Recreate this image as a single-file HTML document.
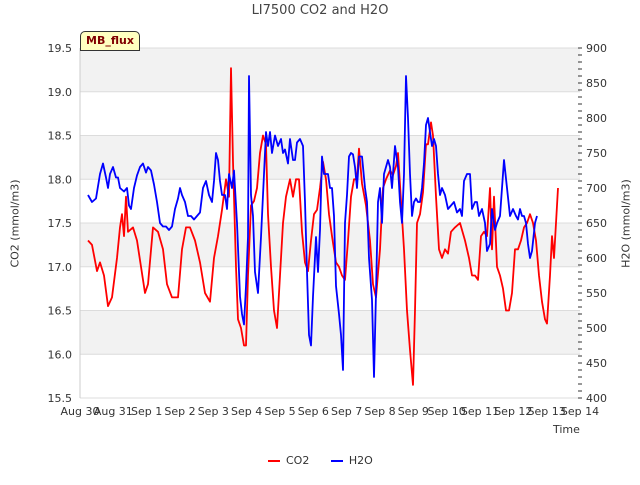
<!DOCTYPE html>
<html><head><meta charset="utf-8"><style>
body{margin:0;background:#fff;font-family:"Liberation Sans",sans-serif}
svg text{font-family:"DejaVu Sans","Liberation Sans",sans-serif}
</style></head><body>
<svg id="c" width="640" height="480" xmlns="http://www.w3.org/2000/svg"></svg>
<script>
const xTickLabels=["Aug 30","Aug 31","Sep 1","Sep 2","Sep 3","Sep 4","Sep 5","Sep 6","Sep 7","Sep 8","Sep 9","Sep 10","Sep 11","Sep 12","Sep 13","Sep 14"];
const co2Ticks=[15.5,16.0,16.5,17.0,17.5,18.0,18.5,19.0,19.5];
const h2oTicks=[400,450,500,550,600,650,700,750,800,850,900];
const co2Days=[0.24,0.36,0.51,0.6,0.72,0.84,0.96,1.11,1.2,1.26,1.32,1.38,1.44,1.59,1.71,1.83,1.95,2.04,2.19,2.34,2.49,2.61,2.76,2.94,3.06,3.18,3.3,3.45,3.6,3.75,3.9,4.02,4.14,4.26,4.38,4.47,4.53,4.59,4.68,4.74,4.83,4.92,4.98,5.04,5.13,5.22,5.31,5.4,5.49,5.58,5.64,5.73,5.82,5.91,6.0,6.09,6.18,6.3,6.39,6.48,6.57,6.66,6.75,6.84,6.93,7.02,7.11,7.2,7.29,7.38,7.47,7.56,7.68,7.77,7.86,7.95,8.04,8.13,8.22,8.31,8.37,8.46,8.58,8.7,8.79,8.88,9.0,9.09,9.18,9.3,9.39,9.48,9.54,9.63,9.72,9.81,9.9,9.99,10.05,10.11,10.2,10.29,10.38,10.44,10.53,10.59,10.68,10.77,10.86,10.95,11.04,11.13,11.25,11.4,11.55,11.67,11.76,11.85,11.94,12.03,12.12,12.21,12.3,12.36,12.42,12.51,12.6,12.69,12.78,12.87,12.96,13.05,13.14,13.23,13.32,13.41,13.5,13.59,13.68,13.77,13.86,13.95,14.01,14.1,14.16,14.22,14.28,14.34];
const co2Vals=[17.3,17.25,16.95,17.05,16.9,16.55,16.65,17.1,17.45,17.6,17.35,17.8,17.4,17.45,17.3,17.0,16.7,16.8,17.45,17.4,17.2,16.8,16.65,16.65,17.2,17.45,17.45,17.3,17.05,16.7,16.6,17.1,17.35,17.65,18.0,17.8,19.27,18.2,17.0,16.4,16.3,16.1,16.1,16.9,17.7,17.75,17.9,18.3,18.5,18.4,17.6,17.0,16.5,16.3,16.9,17.5,17.8,18.0,17.8,18.0,18.0,17.4,17.05,16.95,17.3,17.6,17.65,17.9,18.2,18.0,17.6,17.35,17.05,17.0,16.9,16.85,17.3,17.8,18.0,18.0,18.35,17.95,17.7,17.3,16.8,16.65,17.2,17.9,18.0,18.1,18.05,18.15,18.3,17.75,17.2,16.5,16.05,15.65,16.5,17.5,17.6,17.85,18.4,18.4,18.65,18.5,17.8,17.2,17.1,17.2,17.15,17.4,17.45,17.5,17.3,17.1,16.9,16.9,16.85,17.35,17.4,17.35,17.9,17.2,17.8,17.0,16.9,16.75,16.5,16.5,16.7,17.2,17.2,17.3,17.45,17.5,17.6,17.5,17.3,16.9,16.6,16.4,16.35,16.9,17.35,17.1,17.5,17.9];
const h2oDays=[0.24,0.36,0.48,0.6,0.69,0.78,0.84,0.9,0.99,1.08,1.14,1.2,1.32,1.41,1.47,1.53,1.62,1.71,1.8,1.89,1.98,2.04,2.13,2.22,2.31,2.4,2.49,2.58,2.67,2.76,2.85,2.94,3.0,3.06,3.15,3.24,3.33,3.42,3.51,3.6,3.69,3.78,3.87,3.96,4.02,4.08,4.14,4.2,4.26,4.35,4.41,4.47,4.56,4.62,4.71,4.8,4.86,4.92,4.98,5.04,5.07,5.13,5.19,5.25,5.34,5.43,5.52,5.58,5.64,5.7,5.76,5.85,5.94,6.03,6.09,6.15,6.24,6.3,6.39,6.45,6.51,6.6,6.69,6.75,6.81,6.87,6.93,6.99,7.08,7.14,7.2,7.26,7.32,7.38,7.44,7.5,7.56,7.62,7.68,7.77,7.83,7.89,7.95,8.01,8.07,8.13,8.19,8.25,8.31,8.37,8.46,8.55,8.61,8.67,8.76,8.82,8.88,8.94,9.0,9.06,9.12,9.18,9.24,9.3,9.36,9.45,9.54,9.6,9.66,9.72,9.78,9.84,9.9,9.96,10.02,10.08,10.14,10.2,10.26,10.32,10.38,10.44,10.5,10.56,10.62,10.68,10.74,10.8,10.86,10.95,11.04,11.13,11.22,11.31,11.4,11.46,11.52,11.61,11.7,11.76,11.85,11.91,11.97,12.06,12.15,12.21,12.3,12.36,12.45,12.51,12.6,12.66,12.72,12.81,12.9,12.99,13.08,13.14,13.2,13.26,13.32,13.38,13.44,13.5,13.56,13.65,13.71];
const h2oVals=[690,680,685,720,735,715,700,720,730,715,715,700,695,700,675,670,700,718,730,735,722,730,725,705,680,650,645,645,640,645,670,685,700,690,680,660,660,655,660,665,700,710,690,680,710,750,740,710,690,690,670,720,700,725,650,545,520,505,560,630,860,690,660,580,550,630,720,780,760,780,750,775,760,770,750,755,735,770,740,740,765,770,760,680,580,490,475,545,630,580,640,745,720,720,720,700,700,660,560,520,490,440,650,690,745,750,748,730,700,745,745,700,680,600,540,430,550,680,700,650,720,730,740,730,700,760,730,680,650,720,860,800,720,660,680,685,680,680,700,735,790,800,780,760,770,760,720,690,700,690,670,675,680,665,670,660,710,720,720,670,680,680,660,670,650,610,620,670,640,650,660,700,740,700,660,670,660,655,670,660,660,650,620,600,610,650,660,640,590,605,620];

const NS="http://www.w3.org/2000/svg",svg=document.getElementById('c');
const L=80,R=580,T=48,B=398;
const xs=d=>L+d*(R-L)/15;
const yc=v=>T+(19.5-v)*(B-T)/4;
const yh=v=>T+(900-v)*(B-T)/500;
function el(tag,a,txt){const e=document.createElementNS(NS,tag);for(const k in a)e.setAttribute(k,a[k]);if(txt!=null)e.textContent=txt;svg.appendChild(e);return e;}
for(let i=0;i<8;i++){const top=19.5-i*0.5;if(i%2==0){const r=el('rect',{x:L,y:yc(top),width:R-L,height:yc(top-0.5)-yc(top),fill:'#f2f2f2'});

}}
co2Ticks.forEach(v=>{const g=el('line',{x1:L,x2:R,y1:yc(v),y2:yc(v),stroke:'#dcdcdc','stroke-width':1});


const t=el('text',{x:L-8,y:yc(v)+4,'text-anchor':'end','font-size':11,fill:'#333'},v.toFixed(1));

});
h2oTicks.forEach(v=>{const t=el('text',{x:R+6,y:yh(v)+4,'font-size':11,fill:'#333'},v);

});
for(let v=400;v<=900;v+=10){const tk=el('line',{x1:R-2,x2:R+2,y1:yh(v),y2:yh(v),stroke:'#333'});

}
el('line',{x1:L,x2:L,y1:T,y2:B,stroke:'#ccc'});
xTickLabels.forEach((s,i)=>{const t=el('text',{x:xs(i),y:B+17,'text-anchor':'middle','font-size':11,fill:'#333'},s);

});
function line(days,vals,yf,col,name){const p=el('path',{d:days.map((d,i)=>(i?'L':'M')+xs(d).toFixed(1)+','+yf(vals[i]).toFixed(1)).join(''),fill:'none',stroke:col,'stroke-width':1.8,'stroke-linejoin':'round'});

}
line(co2Days,co2Vals,yc,'#ff0000','co2-line');
line(h2oDays,h2oVals,yh,'#0000ff','h2o-line');
</script>
<div style="position:absolute;left:0;top:3px;width:640px;text-align:center;font:13px 'DejaVu Sans',sans-serif;color:#444">LI7500 CO2 and H2O</div>
<div style="position:absolute;left:80px;top:31px;width:58px;height:18px;background:#ffffc0;border:1px solid #333;border-radius:5px 5px 0 0;font:bold 11px 'DejaVu Sans',sans-serif;color:#800000;text-align:center;line-height:18px">MB_flux</div>
<div style="position:absolute;left:-45px;top:217px;width:120px;text-align:center;white-space:nowrap;transform:rotate(-90deg);font:11px 'DejaVu Sans',sans-serif;color:#333">CO2 (mmol/m3)</div>
<div style="position:absolute;left:566px;top:217px;width:120px;text-align:center;white-space:nowrap;transform:rotate(-90deg);font:11px 'DejaVu Sans',sans-serif;color:#333">H2O (mmol/m3)</div>
<div style="position:absolute;left:553px;top:423px;font:11px 'DejaVu Sans',sans-serif;color:#333">Time</div>
<div style="position:absolute;left:268px;top:454px;font:11px 'DejaVu Sans',sans-serif;color:#333;white-space:nowrap">
<span><span style="display:inline-block;width:12px;height:2px;background:#f00;vertical-align:middle;margin-right:6px"></span>CO2</span>
<span style="margin-left:18px"><span style="display:inline-block;width:12px;height:2px;background:#00f;vertical-align:middle;margin-right:6px"></span>H2O</span>
</div>
</body></html>
